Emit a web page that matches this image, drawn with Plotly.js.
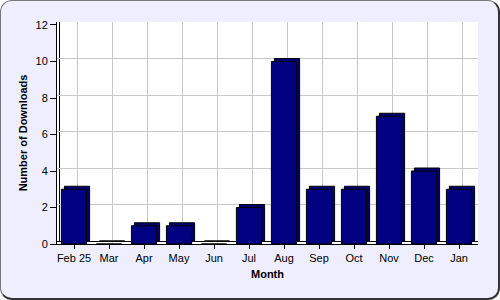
<!DOCTYPE html>
<html>
<head>
<meta charset="utf-8">
<script src="https://cdn.plot.ly/plotly-3.0.1.min.js"></script>
<style>
  html, body { margin: 0; padding: 0; background: #ffffff; }
  #frame { position: absolute; left: 0; top: 0; width: 497px; height: 297px;
           background: #EEEEFF; border-style: solid; border-width: 1px 2px 2px 1px;
           border-color: #777777 #333333 #333333 #777777; border-radius: 12px; }
  #chart { position: absolute; left: 0; top: 0; width: 500px; height: 300px; }
</style>
</head>
<body>
<div id="frame"></div>
<div id="chart"></div>
<script>
const months = ["Feb 25", "Mar", "Apr", "May", "Jun", "Jul", "Aug", "Sep", "Oct", "Nov", "Dec", "Jan"];
const downloads = [3, 0, 1, 1, 0, 2, 10, 3, 3, 7, 4, 3];
const yTicks = [0, 2, 4, 6, 8, 10, 12];

// 3D depth in pixels, converted to data units
const depthX = 3 / 35;
const depthY = 3 / 18.25;
const xr = [-0.486, 11.543];
const yr = [0, 12.164];

const back = {
  type: "bar", x: months, y: downloads, xaxis: "x", yaxis: "y",
  width: 0.72, marker: { color: "#000070", line: { color: "#000000", width: 1 } },
  hoverinfo: "skip", showlegend: false
};
const front = {
  type: "bar", x: months, y: downloads, xaxis: "x2", yaxis: "y2",
  width: 0.72, marker: { color: "#000080", line: { color: "#000000", width: 1 } },
  showlegend: false
};

const font = { family: "Liberation Sans, Arial, sans-serif", size: 11, color: "#000000" };

const layout = {
  width: 500, height: 300,
  margin: { l: 57, r: 22, t: 22, b: 56 },
  paper_bgcolor: "rgba(0,0,0,0)",
  plot_bgcolor: "#ffffff",
  font: font,
  xaxis: {
    type: "category", range: [xr[0] - depthX, xr[1] - depthX],
    showgrid: true, gridcolor: "#C8C8C8", gridwidth: 1,
    showticklabels: false, ticks: "", showline: false, zeroline: false, fixedrange: true
  },
  yaxis: {
    range: [yr[0] - depthY, yr[1] - depthY], tickvals: yTicks,
    showgrid: true, gridcolor: "#C8C8C8", gridwidth: 1,
    showticklabels: false, ticks: "", showline: false,
    zeroline: true, zerolinecolor: "#000000", zerolinewidth: 1, fixedrange: true
  },
  xaxis2: {
    type: "category", overlaying: "x", anchor: "y2", side: "bottom",
    range: xr, showgrid: false, zeroline: false,
    showline: true, linecolor: "#000000", linewidth: 1,
    ticks: "outside", ticklen: 4, tickcolor: "#000000",
    tickfont: font,
    title: { text: "Month", font: { family: font.family, size: 11, color: "#000000", weight: "bold" }, standoff: 7 },
    fixedrange: true
  },
  yaxis2: {
    overlaying: "y", anchor: "x2", side: "left",
    range: yr, tickvals: yTicks, showgrid: false, zeroline: false,
    showline: true, linecolor: "#000000", linewidth: 1,
    ticks: "outside", ticklen: 6, tickcolor: "#000000",
    tickfont: font,
    title: { text: "Number of Downloads", font: { family: font.family, size: 11, color: "#000000", weight: "bold" }, standoff: 5 },
    fixedrange: true
  },
  shapes: [
    { type: "line", xref: "x", yref: "y", x0: -0.5, x1: -0.5, y0: 0, y1: 12,
      line: { color: "#000000", width: 1 }, layer: "below" }
  ]
};

Plotly.newPlot("chart", [back, front], layout, { displayModeBar: false, staticPlot: true });
</script>
</body>
</html>
